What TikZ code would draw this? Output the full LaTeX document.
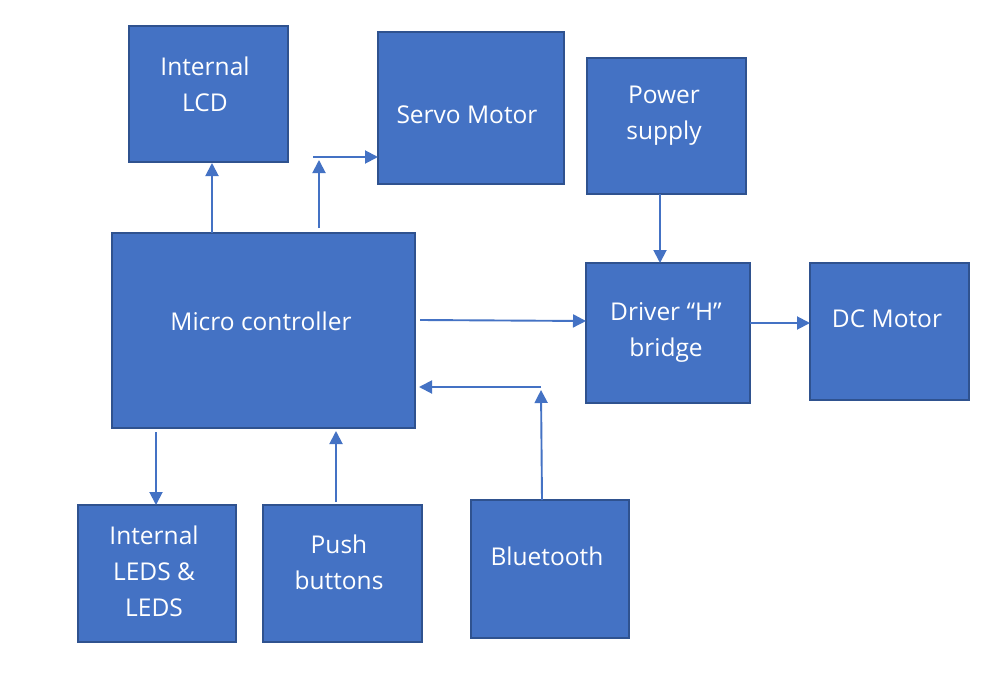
\documentclass[tikz,border=0pt]{standalone}
\usepackage{fontspec}
\setmainfont{Open Sans}
\usetikzlibrary{arrows.meta}
\definecolor{boxfill}{HTML}{4472C4}
\definecolor{boxline}{HTML}{2F528F}
\definecolor{arrowc}{HTML}{4472C4}
\begin{document}
\begin{tikzpicture}[x=1pt,y=-1pt,
  blk/.style={draw=boxline,fill=boxfill,line width=1.6pt},
  lbl/.style={text=white,font=\fontsize{24.5}{36}\selectfont,align=center,inner sep=0pt},
  conn/.style={draw=arrowc,line width=1.9pt,-{Triangle[length=13pt,width=13pt]}}]
\useasboundingbox (0,0) rectangle (998,690);
\fill[white] (0,0) rectangle (998,690);
% boxes
\path[blk] (129,26) rectangle (288,162);
\path[blk] (378,32) rectangle (564,184);
\path[blk] (587,58) rectangle (746,194);
\path[blk] (112,233) rectangle (415,428);
\path[blk] (586,263) rectangle (750,403);
\path[blk] (810,263) rectangle (969,400);
\path[blk] (78,505) rectangle (236,642);
\path[blk] (263,505) rectangle (422,642);
\path[blk] (471,500) rectangle (629,638);
% labels
\node[lbl] (tlcd) at (205,84) {Internal\\LCD};
\node[lbl] (tservo) at (467,115) {Servo Motor};
\node[lbl] (tpower) at (664,116) {Power\\supply};
\node[lbl] (tmcu) at (261,321) {Micro controller};
\node[lbl] (tdrv) at (666,332) {Driver “H”\\bridge};
\node[lbl] (tdc) at (887,319) {DC Motor};
\node[lbl] (tleds) at (154,571) {Internal\\LEDS \&\\LEDS};
\node[lbl] (tpush) at (339,562) {Push\\buttons};
\node[lbl] (tbt) at (547,556) {Bluetooth};
% connector points
\coordinate (a1s) at (212,233); \coordinate (a1e) at (212,163);
\coordinate (a2s) at (319,228); \coordinate (a2e) at (319,160);
\coordinate (a3s) at (313,157); \coordinate (a3e) at (378,157);
\coordinate (a4s) at (660,194); \coordinate (a4e) at (660,263);
\coordinate (a5s) at (420,320); \coordinate (a5e) at (586,321);
\coordinate (a6s) at (750,323); \coordinate (a6e) at (810,323);
\coordinate (a7s) at (156,432); \coordinate (a7e) at (156,505);
\coordinate (a8s) at (336,502); \coordinate (a8e) at (336,431);
\coordinate (a9s) at (542,500); \coordinate (a9e) at (541,390);
\coordinate (a10s) at (541,387); \coordinate (a10e) at (419,387);
% connectors
\draw[conn] (a1s) -- (a1e);
\draw[conn] (a2s) -- (a2e);
\draw[conn] (a3s) -- (a3e);
\draw[conn] (a4s) -- (a4e);
\draw[conn] (a5s) -- (a5e);
\draw[conn] (a6s) -- (a6e);
\draw[conn] (a7s) -- (a7e);
\draw[conn] (a8s) -- (a8e);
\draw[conn] (a9s) -- (a9e);
\draw[conn] (a10s) -- (a10e);
\end{tikzpicture}
\end{document}
